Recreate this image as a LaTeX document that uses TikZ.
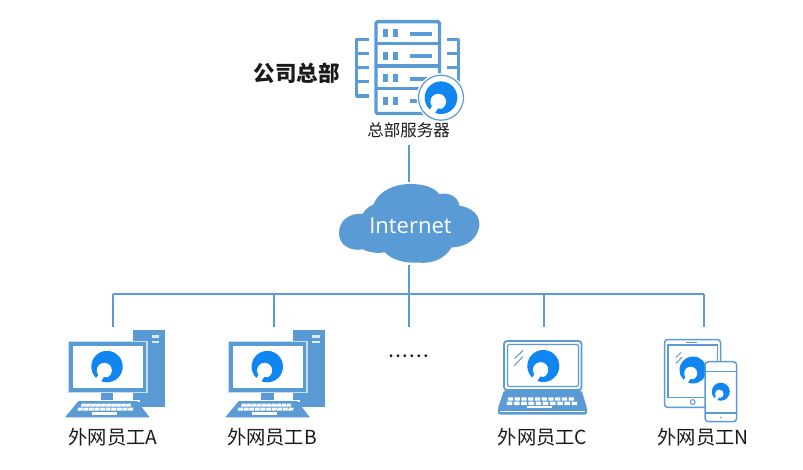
\documentclass[tikz,border=0pt]{standalone}
\usepackage{fontspec}
\setmainfont{Noto Sans CJK SC}
\newfontfamily\latinui{Open Sans}
\definecolor{netblue}{HTML}{5B9BD5}
\definecolor{logoblue}{HTML}{0F86F2}
\definecolor{inktext}{HTML}{1A1A1A}
\tikzset{
  x=1pt,y=-1pt,
  wire/.style={draw=netblue,line width=2pt},
  outline/.style={draw=netblue,line width=3.2pt,line join=round},
  caption/.style={font=\fontsize{19.3}{22}\selectfont,text=inktext,inner sep=0pt,anchor=center},
  logomark/.pic={
    \fill[logoblue] (0,0) circle[radius=1];
    \fill[white] (-0.17,0.24) circle[radius=0.48];
    \fill[white] (-0.45,0.36) -- (-0.12,0.58) -- (-0.40,1.02) -- (-0.76,0.85) -- cycle;
    \fill[logoblue] (-0.18,0.66) -- (-0.02,0.68) -- (-0.12,0.95) -- (-0.36,0.92) -- cycle;
  },
  desktop/.pic={
    \fill[netblue] (132.7,330) rectangle (164.7,406.7);
    \fill[white!80!netblue] (151.7,335) rectangle (159.3,338.3);
    \fill[white!80!netblue] (151.7,340.7) rectangle (159.3,343.3);
    \fill[white!65!netblue] (67.5,340.5) rectangle (147.5,393);
    \fill[netblue] (69,342) rectangle (146,392);
    \fill[white] (73,345.5) rectangle (142.5,388);
    \fill[netblue] (100.7,393) rectangle (113.3,400);
    \fill[white] (100,400) rectangle (140,402);
    \fill[netblue] (78.5,401) -- (137,401) -- (149.5,417.3) -- (65,417.3) -- cycle;
    \foreach \k in {0,...,9}{
      \fill[white] ({81.6+\k*5.0},403.7) -- ({86.0+\k*5.0},403.7) -- ({85.5+\k*5.0},406.5) -- ({80.8+\k*5.0},406.5) -- cycle;
      \fill[white] ({78.2+\k*5.6},407.5) -- ({83.0+\k*5.6},407.5) -- ({82.4+\k*5.6},410.5) -- ({77.4+\k*5.6},410.5) -- cycle;
    }
    \fill[white] (92,412) rectangle (117,414.5);
    \pic[scale=15.7] at (107,366.6) {logomark};
  }
}
\begin{document}
\begin{tikzpicture}
\useasboundingbox (0,0) rectangle (803,470);
\fill[white] (0,0) rectangle (803,470);

% junction coordinates
\coordinate (srvBottom) at (409,145);
\coordinate (cloudTop) at (409,182);
\coordinate (cloudBottom) at (409,265);
\coordinate (busMid) at (409,294);
\coordinate (busA) at (113,294);
\coordinate (busB) at (274,294);
\coordinate (busC) at (544,294);
\coordinate (busN) at (704,294);
\coordinate (dropA) at (113,327);
\coordinate (dropB) at (274,327);
\coordinate (dropDots) at (409,327);
\coordinate (dropC) at (544,327);
\coordinate (dropN) at (704,327);

\draw[wire] (srvBottom) -- (cloudTop);
\draw[wire] (cloudBottom) -- (busMid);
\draw[wire] (busA) -- (busN);
\draw[wire] (busA) -- (dropA);
\draw[wire] (busB) -- (dropB);
\draw[wire] (busMid) -- (dropDots);
\draw[wire] (busC) -- (dropC);
\draw[wire] (busN) -- (dropN);

% server
\draw[outline] (369,39.8) -- (356.6,39.8) -- (356.6,96) -- (369,96)
  (356.6,53.5) -- (369,53.5) (356.6,67.5) -- (369,67.5) (356.6,81.5) -- (369,81.5);
\draw[outline] (447,39.8) -- (458.8,39.8) -- (458.8,96) -- (447,96)
  (458.8,53.5) -- (447,53.5) (458.8,67.5) -- (447,67.5) (458.8,81.5) -- (447,81.5);
\draw[netblue,line width=3.4pt,rounded corners=1.5pt,fill=white] (376,21.7) rectangle (439.5,113.5);
\draw[netblue,line width=3.2pt] (376,43.5) -- (439.5,43.5) (376,66) -- (439.5,66) (376,88.5) -- (439.5,88.5);
\foreach \yy in {29.5,52,74.5,97}{
  \fill[netblue] (383.3,\yy) rectangle (388.3,{\yy+8});
  \fill[netblue] (393.3,\yy) rectangle (397.7,{\yy+8});
  \fill[netblue] (410,{\yy+2.2}) rectangle (431.7,{\yy+6.2});
}
\fill[white] (441,97.7) circle[radius=24.5];
\draw[netblue,line width=1.2pt] (441,97.7) circle[radius=22.5];
\pic[scale=16.3] at (441,97.7) {logomark};

\node[inner sep=0pt,font=\fontsize{21.5}{24}\selectfont\bfseries,text=inktext] (hq) at (296.5,73.5) {公司总部};
\node[inner sep=0pt,font=\fontsize{16.5}{20}\selectfont,text=inktext] (srvlabel) at (408.5,130) {总部服务器};

% cloud
\begin{scope}[shift={(320,170)},x=0.3333pt,y=-0.3333pt]
\fill[netblue] (57,190)
  .. controls (57,150) and (90,128) .. (128,132)
  .. controls (134,120) and (148,108) .. (160,104)
  .. controls (176,62) and (225,42) .. (270,42)
  .. controls (310,42) and (345,52) .. (358,73)
  .. controls (385,65) and (415,80) .. (418,107)
  .. controls (455,112) and (480,135) .. (478,165)
  .. controls (476,200) and (445,232) .. (395,232)
  .. controls (375,265) and (340,282) .. (295,278)
  .. controls (255,280) and (215,270) .. (195,247)
  .. controls (175,250) and (150,250) .. (130,238)
  .. controls (90,245) and (57,225) .. (57,190) -- cycle;
\end{scope}
\node[inner sep=0pt,text=white,font=\latinui\fontsize{22}{26}\selectfont] (internet) at (410.5,226) {Internet};

% desktops
\pic at (0,0) {desktop};
\pic at (160.3,0) {desktop};

\node[inner sep=0pt,text=inktext,font=\bfseries\fontsize{13}{14}\selectfont] (gapdots) at (408.5,356) {.\kern2.4pt.\kern2.4pt.\kern2.4pt.\kern2.4pt.\kern2.4pt.};

% laptop
\draw[netblue,line width=1.8pt,rounded corners=3pt,fill=white] (504,341) rectangle (581.5,390);
\draw[netblue,line width=1.2pt,rounded corners=2pt] (507.5,344.5) rectangle (578.5,386.5);
\fill[netblue,rounded corners=2pt] (504,390) -- (581.5,390) -- (587,408) -- (587,414.5) -- (498,414.5) -- (498,408) -- cycle;
\fill[white] (500,410.8) rectangle (585,411.6);
\foreach \k in {0,...,9}{
  \fill[white,rounded corners=0.5pt] ({507.8+\k*6.75},397.3) rectangle ({513.2+\k*6.75},400.7);
  \fill[white,rounded corners=0.5pt] ({506.7+\k*7.2},401.7) rectangle ({512.4+\k*7.2},405);
}
\fill[white] (526.7,406) rectangle (551.7,408.3);
\draw[netblue,line width=1pt] (523,350.5) -- (514.5,358.5) (523,356.5) -- (514,366);
\pic[scale=16] at (543.3,366) {logomark};

% tablet
\draw[netblue,line width=1.5pt,rounded corners=3pt,fill=white] (664.5,339.5) rectangle (720.5,407.3);
\draw[netblue,line width=1.1pt] (668,345) rectangle (717.3,397.3);
\draw[netblue,line width=1pt] (685.5,342) -- (697,342);
\draw[netblue,line width=1pt] (692.7,402) circle[radius=2.4];
\draw[netblue,line width=1pt] (681,352.5) -- (676,357.5) (682,357) -- (676,363.5);
\pic[scale=13.5] at (693,370) {logomark};
% phone
\draw[netblue,line width=1.5pt,rounded corners=3.5pt,fill=white] (705,361.7) rectangle (736.7,421.7);
\draw[netblue,line width=1.1pt] (705,371.7) -- (736.7,371.7) (705,413) -- (736.7,413);
\fill[netblue] (720.8,417.5) circle[radius=0.9];
\pic[scale=9] at (720.8,391.7) {logomark};

% captions
\node[caption] (capA) at (113,437.5) {外网员工A};
\node[caption] (capB) at (272,437.5) {外网员工B};
\node[caption] (capC) at (542.5,437.5) {外网员工C};
\node[caption] (capN) at (703,437.5) {外网员工N};
\end{tikzpicture}
\end{document}
